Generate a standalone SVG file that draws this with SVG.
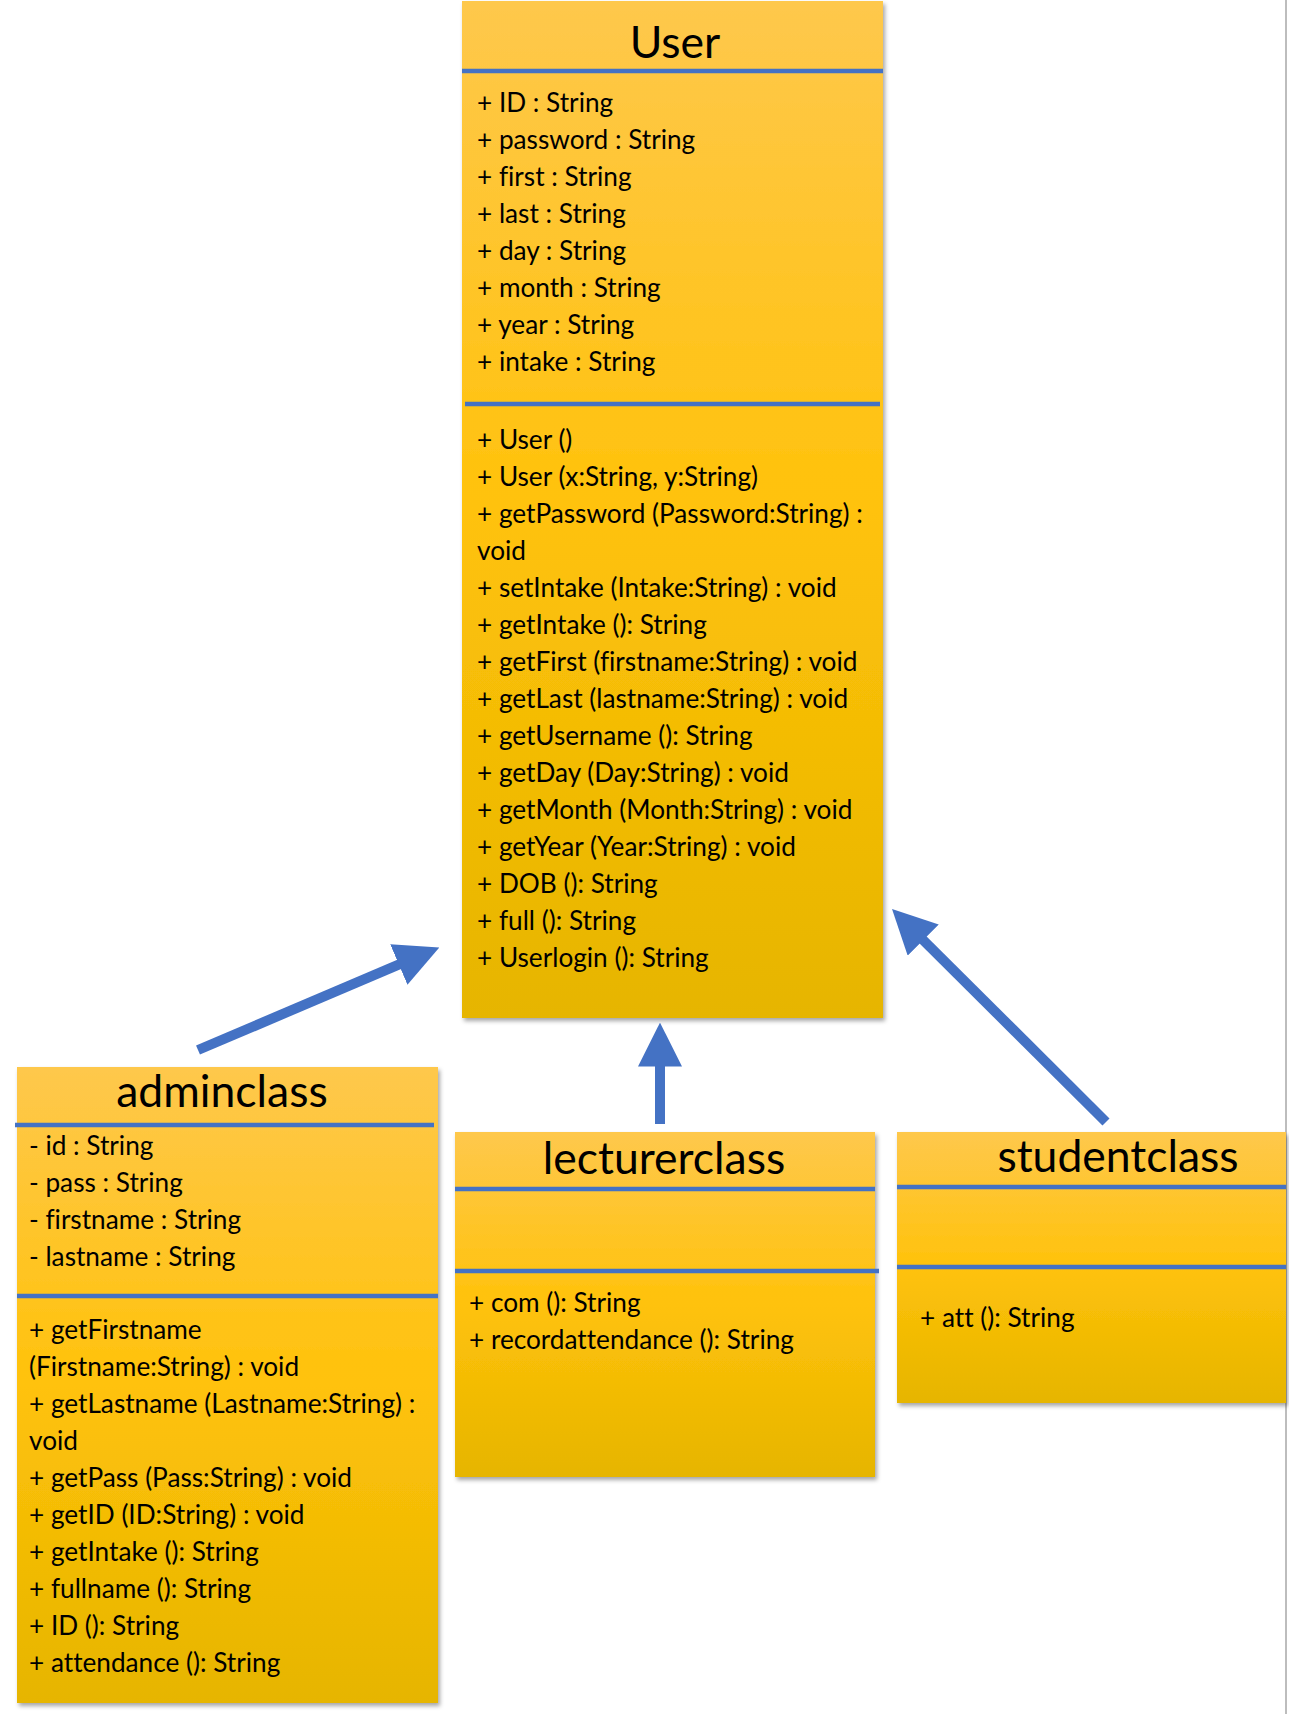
<svg xmlns="http://www.w3.org/2000/svg" width="1289" height="1714" viewBox="0 0 1289 1714">
<style>
.box{fill:url(#gold);filter:url(#sh)}
.sep{stroke:#4472C4;stroke-width:4.5;fill:none}
.t{font-family:Lato,"Liberation Sans",sans-serif;font-size:26.2px;fill:#000;font-variant-ligatures:none}
.h{font-family:Lato,"Liberation Sans",sans-serif;font-size:44.5px;fill:#000;text-anchor:middle;font-variant-ligatures:none}
.arr{stroke:#4472C4;stroke-width:10;fill:none;marker-end:url(#ah)}
</style>
<defs>
<linearGradient id="gold" x1="0" y1="0" x2="0" y2="1">
<stop offset="0" stop-color="#FEC84C"/>
<stop offset="0.5" stop-color="#FFC20A"/>
<stop offset="1" stop-color="#E6B500"/>
</linearGradient>
<filter id="sh" x="-5%" y="-5%" width="112%" height="112%">
<feDropShadow dx="2" dy="3" stdDeviation="2" flood-color="#000" flood-opacity="0.35"/>
</filter>
<marker id="ah" markerUnits="userSpaceOnUse" markerWidth="44" markerHeight="44" refX="12" refY="21" orient="auto" viewBox="0 0 42 42">
<path d="M0,0 L42,21 L0,42 z" fill="#4472C4"/>
</marker>
</defs>
<rect width="1289" height="1714" fill="#fff"/>
<line x1="1286" y1="0" x2="1286" y2="1714" stroke="#bdbdbd" stroke-width="2"/>

<g id="User">
<rect class="box" x="462" y="1" width="421" height="1017"/>
<text class="h" x="675" y="58">User</text>
<line class="sep" x1="462" y1="71" x2="883" y2="71"/>
<text class="t" x="477" y="112">+ ID : String</text>
<text class="t" x="477" y="149">+ password : String</text>
<text class="t" x="477" y="186">+ first : String</text>
<text class="t" x="477" y="223">+ last : String</text>
<text class="t" x="477" y="260">+ day : String</text>
<text class="t" x="477" y="297">+ month : String</text>
<text class="t" x="477" y="334">+ year : String</text>
<text class="t" x="477" y="371">+ intake : String</text>
<line class="sep" x1="465" y1="404" x2="880" y2="404"/>
<text class="t" x="477" y="449">+ User ()</text>
<text class="t" x="477" y="486">+ User (x:String, y:String)</text>
<text class="t" x="477" y="523">+ getPassword (Password:String) :</text>
<text class="t" x="477" y="560">void</text>
<text class="t" x="477" y="597">+ setIntake (Intake:String) : void</text>
<text class="t" x="477" y="634">+ getIntake (): String</text>
<text class="t" x="477" y="671">+ getFirst (firstname:String) : void</text>
<text class="t" x="477" y="708">+ getLast (lastname:String) : void</text>
<text class="t" x="477" y="745">+ getUsername (): String</text>
<text class="t" x="477" y="782">+ getDay (Day:String) : void</text>
<text class="t" x="477" y="819">+ getMonth (Month:String) : void</text>
<text class="t" x="477" y="856">+ getYear (Year:String) : void</text>
<text class="t" x="477" y="893">+ DOB (): String</text>
<text class="t" x="477" y="930">+ full (): String</text>
<text class="t" x="477" y="967">+ Userlogin (): String</text>
</g>

<g id="adminclass">
<rect class="box" x="17" y="1067" width="421" height="636"/>
<text class="h" x="222" y="1107">adminclass</text>
<line class="sep" x1="15" y1="1125" x2="434" y2="1125"/>
<text class="t" x="29" y="1155">- id : String</text>
<text class="t" x="29" y="1192">- pass : String</text>
<text class="t" x="29" y="1229">- firstname : String</text>
<text class="t" x="29" y="1266">- lastname : String</text>
<line class="sep" x1="17" y1="1296" x2="438" y2="1296"/>
<text class="t" x="29" y="1339">+ getFirstname</text>
<text class="t" x="29" y="1376">(Firstname:String) : void</text>
<text class="t" x="29" y="1413">+ getLastname (Lastname:String) :</text>
<text class="t" x="29" y="1450">void</text>
<text class="t" x="29" y="1487">+ getPass (Pass:String) : void</text>
<text class="t" x="29" y="1524">+ getID (ID:String) : void</text>
<text class="t" x="29" y="1561">+ getIntake (): String</text>
<text class="t" x="29" y="1598">+ fullname (): String</text>
<text class="t" x="29" y="1635">+ ID (): String</text>
<text class="t" x="29" y="1672">+ attendance (): String</text>
</g>

<g id="lecturerclass">
<rect class="box" x="455" y="1132" width="420" height="345"/>
<text class="h" x="664" y="1174">lecturerclass</text>
<line class="sep" x1="455" y1="1189" x2="875" y2="1189"/>
<line class="sep" x1="455" y1="1271" x2="879" y2="1271"/>
<text class="t" x="469" y="1312">+ com (): String</text>
<text class="t" x="469" y="1349">+ recordattendance (): String</text>
</g>

<g id="studentclass">
<rect class="box" x="897" y="1132" width="389" height="271"/>
<text class="h" x="1118" y="1172">studentclass</text>
<line class="sep" x1="897" y1="1187" x2="1286" y2="1187"/>
<line class="sep" x1="897" y1="1267" x2="1286" y2="1267"/>
<text class="t" x="920" y="1327">+ att (): String</text>
</g>

<g id="connectors">
<line class="arr" x1="198" y1="1050" x2="410.4" y2="959.7"/>
<line class="arr" x1="660" y1="1124" x2="660" y2="1054"/>
<line class="arr" x1="1106" y1="1122" x2="914.3" y2="931.2"/>
</g>
</svg>
